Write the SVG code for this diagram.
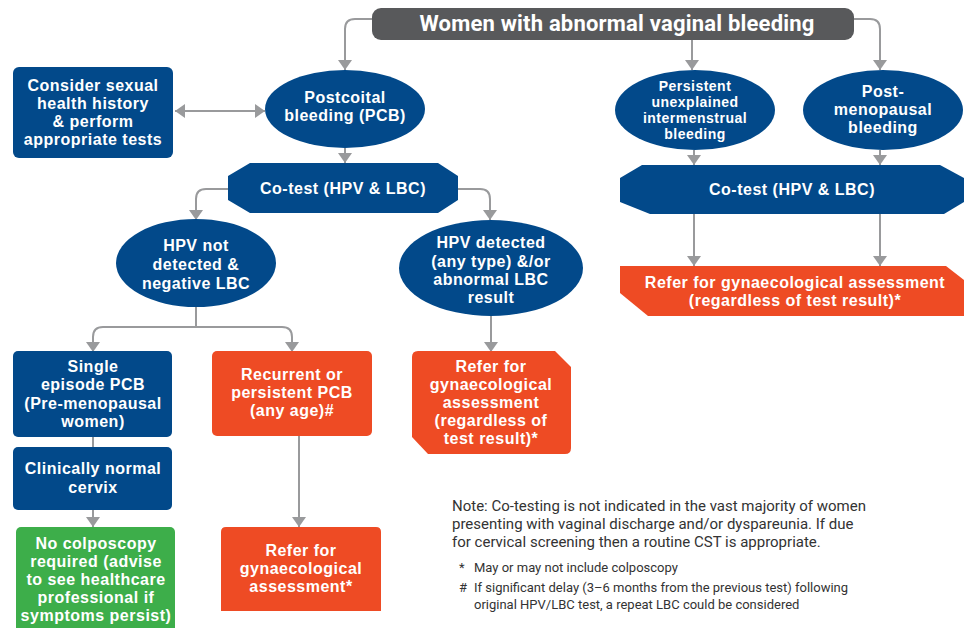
<svg xmlns="http://www.w3.org/2000/svg" width="964" height="628" viewBox="0 0 964 628">
<defs>
<marker id="ah" viewBox="0 0 10 14" refX="10" refY="7" markerWidth="10" markerHeight="14" markerUnits="userSpaceOnUse" orient="auto-start-reverse"><path d="M0,0 L10,7 L0,14 z" fill="#999a9c"/></marker>
<style>
.blue{fill:#02498a}
.org{fill:#ee4b24}
.grn{fill:#3dae4a}
.t{font-family:"Liberation Sans",Arial,sans-serif;font-weight:700;font-size:16px;letter-spacing:0.5px;fill:#fff;text-anchor:middle}
.ts{font-size:14px}
.c{fill:none;stroke:#999a9c;stroke-width:2}
.a{marker-end:url(#ah)}
.note{font-family:Roboto,"Liberation Sans",sans-serif;font-size:15px;fill:#333}
.fn{font-family:Roboto,"Liberation Sans",sans-serif;font-size:13px;fill:#333}
</style>
</defs>
<rect width="964" height="628" fill="#fff"/>
<g id="connectors">
<path class="c a" d="M372,19 H355 Q345,19 345,29 V70"/>
<path class="c a" d="M692,40 V70"/>
<path class="c a" d="M854,19 H870 Q880,19 880,29 V70"/>
<path class="c a" d="M175,111 H265" style="marker-start:url(#ah)"/>
<path class="c a" d="M345,148 V163"/>
<path class="c a" d="M228,189 H206 Q196,189 196,199 V220"/>
<path class="c a" d="M458,189 H480 Q490,189 490,199 V220"/>
<path class="c" d="M196,306 V327"/>
<path class="c a" d="M93,352 V337 Q93,327 103,327 H282 Q292,327 292,337 V352" style="marker-start:url(#ah)"/>
<path class="c a" d="M491,316 V352"/>
<path class="c" d="M93,437 V447"/>
<path class="c a" d="M93,510 V527"/>
<path class="c a" d="M299,436 V527"/>
<path class="c a" d="M694,150 V165"/>
<path class="c a" d="M880,150 V165"/>
<path class="c a" d="M694,214 V266"/>
<path class="c a" d="M880,214 V266"/>
</g>
<g id="title">
<rect x="372" y="8" width="482" height="32" rx="9" fill="#58595b"/>
<text x="617" y="31" style="font-family:Roboto,'Liberation Sans',sans-serif;font-size:22px;font-weight:700;letter-spacing:0.2px;fill:#fff;text-anchor:middle">Women with abnormal vaginal bleeding</text>
</g>
<g id="consider">
<rect class="blue" x="13" y="67" width="160" height="91" rx="6"/>
<text class="t" x="93" y="91">Consider sexual</text>
<text class="t" x="93" y="109">health history</text>
<text class="t" x="93" y="127">&amp; perform</text>
<text class="t" x="93" y="145">appropriate tests</text>
</g>
<g id="pcb">
<ellipse class="blue" cx="345" cy="109" rx="80" ry="39"/>
<text class="t" x="345" y="103">Postcoital</text>
<text class="t" x="345" y="121">bleeding (PCB)</text>
</g>
<g id="cotest1">
<path class="blue" d="M250,163 H438 L458,176 V200 L438,213 H250 L228,200 V176 Z"/>
<text class="t" x="343" y="194">Co-test (HPV &amp; LBC)</text>
</g>
<g id="hpvneg">
<ellipse class="blue" cx="196" cy="263" rx="80" ry="44"/>
<text class="t" x="196" y="251">HPV not</text>
<text class="t" x="196" y="270">detected &amp;</text>
<text class="t" x="196" y="289">negative LBC</text>
</g>
<g id="hpvpos">
<ellipse class="blue" cx="491" cy="268" rx="92" ry="48"/>
<text class="t" x="491" y="248">HPV detected</text>
<text class="t" x="491" y="267">(any type) &amp;/or</text>
<text class="t" x="491" y="285">abnormal LBC</text>
<text class="t" x="491" y="303">result</text>
</g>
<g id="single">
<rect class="blue" x="13" y="351" width="159" height="86" rx="5"/>
<text class="t" x="93" y="372">Single</text>
<text class="t" x="93" y="390">episode PCB</text>
<text class="t" x="93" y="409">(Pre-menopausal</text>
<text class="t" x="93" y="427">women)</text>
</g>
<g id="normal">
<rect class="blue" x="13" y="447" width="159" height="63" rx="5"/>
<text class="t" x="93" y="474">Clinically normal</text>
<text class="t" x="93" y="493">cervix</text>
</g>
<g id="nocolpo">
<rect class="grn" x="16" y="527" width="159" height="110" rx="5"/>
<text class="t" x="96" y="549">No colposcopy</text>
<text class="t" x="96" y="567">required (advise</text>
<text class="t" x="96" y="585">to see healthcare</text>
<text class="t" x="96" y="603">professional if</text>
<text class="t" x="96" y="621">symptoms persist)</text>
</g>
<g id="recurrent">
<rect class="org" x="212" y="351" width="160" height="85" rx="5"/>
<text class="t" x="292" y="380">Recurrent or</text>
<text class="t" x="292" y="398">persistent PCB</text>
<text class="t" x="292" y="416">(any age)#</text>
</g>
<g id="refer2">
<path class="org" d="M226,527 H376 Q381,527 381,532 V611 H221 V532 Q221,527 226,527 Z"/>
<text class="t" x="301" y="556">Refer for</text>
<text class="t" x="301" y="574">gynaecological</text>
<text class="t" x="301" y="592">assessment*</text>
</g>
<g id="refer1">
<path class="org" d="M418,351 H555 L571,367 V448 Q571,454 565,454 H428 L412,437 V357 Q412,351 418,351 Z"/>
<text class="t" x="491" y="372">Refer for</text>
<text class="t" x="491" y="390">gynaecological</text>
<text class="t" x="491" y="408">assessment</text>
<text class="t" x="491" y="426">(regardless of</text>
<text class="t" x="491" y="444">test result)*</text>
</g>
<g id="intermenstrual">
<ellipse class="blue" cx="695" cy="110" rx="80" ry="40"/>
<text class="t ts" x="695" y="91">Persistent</text>
<text class="t ts" x="695" y="107">unexplained</text>
<text class="t ts" x="695" y="123">intermenstrual</text>
<text class="t ts" x="695" y="139">bleeding</text>
</g>
<g id="postmeno">
<ellipse class="blue" cx="883" cy="110" rx="80" ry="40"/>
<text class="t" x="883" y="97">Post-</text>
<text class="t" x="883" y="115">menopausal</text>
<text class="t" x="883" y="133">bleeding</text>
</g>
<g id="cotest2">
<path class="blue" d="M642,165 H940 L964,178 V202 L944,214 H650 L620,202 V178 Z"/>
<text class="t" x="792" y="195">Co-test (HPV &amp; LBC)</text>
</g>
<g id="refer3">
<path class="org" d="M620,266 H946 L964,280 V316 H648 L620,293 Z"/>
<text class="t" x="795" y="288">Refer for gynaecological assessment</text>
<text class="t" x="795" y="306">(regardless of test result)*</text>
</g>
<g id="notes">
<text class="note" x="452" y="511">Note: Co-testing is not indicated in the vast majority of women</text>
<text class="note" x="452" y="529">presenting with vaginal discharge and/or dyspareunia. If due</text>
<text class="note" x="452" y="547">for cervical screening then a routine CST is appropriate.</text>
<text class="fn" x="459" y="572">*</text>
<text class="fn" x="474" y="572">May or may not include colposcopy</text>
<text class="fn" x="459" y="592">#</text>
<text class="fn" x="474" y="592">If significant delay (3–6 months from the previous test) following</text>
<text class="fn" x="474" y="609">original HPV/LBC test, a repeat LBC could be considered</text>
</g>
</svg>
